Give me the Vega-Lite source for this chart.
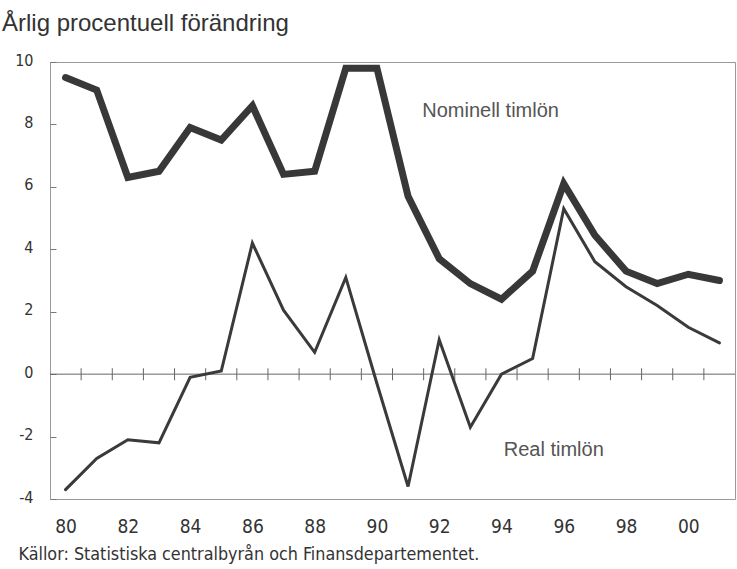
{
  "$schema": "https://vega.github.io/schema/vega-lite/v6.json",
  "width": 685,
  "height": 437,
  "autosize": {"type": "none"},
  "padding": {"left": 50, "top": 62, "right": 2, "bottom": 70},
  "background": "white",
  "title": {
    "text": "Årlig procentuell förändring",
    "anchor": "start",
    "frame": "group",
    "dx": -48,
    "font": "Liberation Sans",
    "fontSize": 24,
    "fontWeight": "normal",
    "color": "#333333",
    "offset": 16
  },
  "config": {
    "view": {"stroke": "#999999", "strokeWidth": 1},
    "font": "Liberation Sans"
  },
  "datasets": {
    "wages": [
      {"year": 1980, "nominell": 9.5, "real": -3.7},
      {"year": 1981, "nominell": 9.1, "real": -2.7},
      {"year": 1982, "nominell": 6.3, "real": -2.1},
      {"year": 1983, "nominell": 6.5, "real": -2.2},
      {"year": 1984, "nominell": 7.9, "real": -0.1},
      {"year": 1985, "nominell": 7.5, "real": 0.1},
      {"year": 1986, "nominell": 8.6, "real": 4.2},
      {"year": 1987, "nominell": 6.4, "real": 2.05},
      {"year": 1988, "nominell": 6.5, "real": 0.7},
      {"year": 1989, "nominell": 9.8, "real": 3.1},
      {"year": 1990, "nominell": 9.8, "real": -0.3},
      {"year": 1991, "nominell": 5.7, "real": -3.6},
      {"year": 1992, "nominell": 3.7, "real": 1.1},
      {"year": 1993, "nominell": 2.9, "real": -1.7},
      {"year": 1994, "nominell": 2.4, "real": 0.0},
      {"year": 1995, "nominell": 3.3, "real": 0.5},
      {"year": 1996, "nominell": 6.1, "real": 5.3},
      {"year": 1997, "nominell": 4.45, "real": 3.6},
      {"year": 1998, "nominell": 3.3, "real": 2.8},
      {"year": 1999, "nominell": 2.9, "real": 2.2},
      {"year": 2000, "nominell": 3.2, "real": 1.5},
      {"year": 2001, "nominell": 3.0, "real": 1.0}
    ],
    "yearBoundaries": [
      {"boundary": 1980.5}, {"boundary": 1981.5}, {"boundary": 1982.5}, {"boundary": 1983.5},
      {"boundary": 1984.5}, {"boundary": 1985.5}, {"boundary": 1986.5}, {"boundary": 1987.5},
      {"boundary": 1988.5}, {"boundary": 1989.5}, {"boundary": 1990.5}, {"boundary": 1991.5},
      {"boundary": 1992.5}, {"boundary": 1993.5}, {"boundary": 1994.5}, {"boundary": 1995.5},
      {"boundary": 1996.5}, {"boundary": 1997.5}, {"boundary": 1998.5}, {"boundary": 1999.5},
      {"boundary": 2000.5}
    ],
    "zeroLine": [{"level": 0}],
    "nominalLabel": [{"label": "Nominell timlön"}],
    "realLabel": [{"label": "Real timlön"}]
  },
  "layer": [
    {
      "data": {"name": "zeroLine"},
      "mark": {"type": "rule", "color": "#666666", "strokeWidth": 1},
      "encoding": {"y": {"field": "level", "type": "quantitative"}}
    },
    {
      "data": {"name": "yearBoundaries"},
      "mark": {"type": "tick", "orient": "vertical", "size": 12, "thickness": 1, "color": "#666666", "opacity": 1},
      "encoding": {
        "x": {"field": "boundary", "type": "quantitative"},
        "y": {"datum": 0}
      }
    },
    {
      "data": {"name": "wages"},
      "mark": {"type": "line", "color": "#3a3a3a", "strokeWidth": 3, "strokeJoin": "miter", "strokeCap": "round"},
      "encoding": {
        "x": {"field": "year", "type": "quantitative"},
        "y": {"field": "real", "type": "quantitative"}
      }
    },
    {
      "data": {"name": "wages"},
      "mark": {"type": "line", "color": "#383838", "strokeWidth": 7, "strokeJoin": "miter", "strokeCap": "round"},
      "encoding": {
        "x": {
          "field": "year",
          "type": "quantitative",
          "scale": {"domain": [1979.5, 2001.5], "nice": false, "zero": false},
          "axis": {
            "values": [1980, 1982, 1984, 1986, 1988, 1990, 1992, 1994, 1996, 1998, 2000],
            "labelExpr": "substring(toString(datum.value), 2)",
            "ticks": false,
            "domain": false,
            "grid": false,
            "labelFont": "DejaVu Sans Condensed, Liberation Sans, sans-serif",
            "labelFontSize": 19,
            "labelColor": "#333333",
            "labelPadding": 18,
            "title": "Källor: Statistiska centralbyrån och Finansdepartementet.",
            "titleFont": "DejaVu Sans Condensed, Liberation Sans, sans-serif",
            "titleFontSize": 17.8,
            "titleFontWeight": "normal",
            "titleColor": "#333333",
            "titleAnchor": "start",
            "titleAlign": "left",
            "titleBaseline": "alphabetic",
            "titleX": -32,
            "titleY": 60
          }
        },
        "y": {
          "field": "nominell",
          "type": "quantitative",
          "scale": {"domain": [-4, 10], "nice": false},
          "axis": {
            "values": [-4, -2, 0, 2, 4, 6, 8, 10],
            "labelExpr": "toString(datum.value)",
            "grid": false,
            "domain": false,
            "tickSize": -6,
            "tickColor": "#777777",
            "labelFont": "DejaVu Sans Condensed, Liberation Sans, sans-serif",
            "labelFontSize": 16,
            "labelColor": "#333333",
            "labelPadding": 23,
            "labelOffset": -2,
            "title": null
          }
        }
      }
    },
    {
      "data": {"name": "nominalLabel"},
      "mark": {"type": "text", "font": "Liberation Sans", "fontSize": 20, "color": "#555555", "align": "center", "baseline": "middle"},
      "encoding": {
        "x": {"datum": 1993.65},
        "y": {"datum": 8.43},
        "text": {"field": "label"}
      }
    },
    {
      "data": {"name": "realLabel"},
      "mark": {"type": "text", "font": "Liberation Sans", "fontSize": 20, "color": "#555555", "align": "center", "baseline": "middle"},
      "encoding": {
        "x": {"datum": 1995.68},
        "y": {"datum": -2.42},
        "text": {"field": "label"}
      }
    }
  ]
}
